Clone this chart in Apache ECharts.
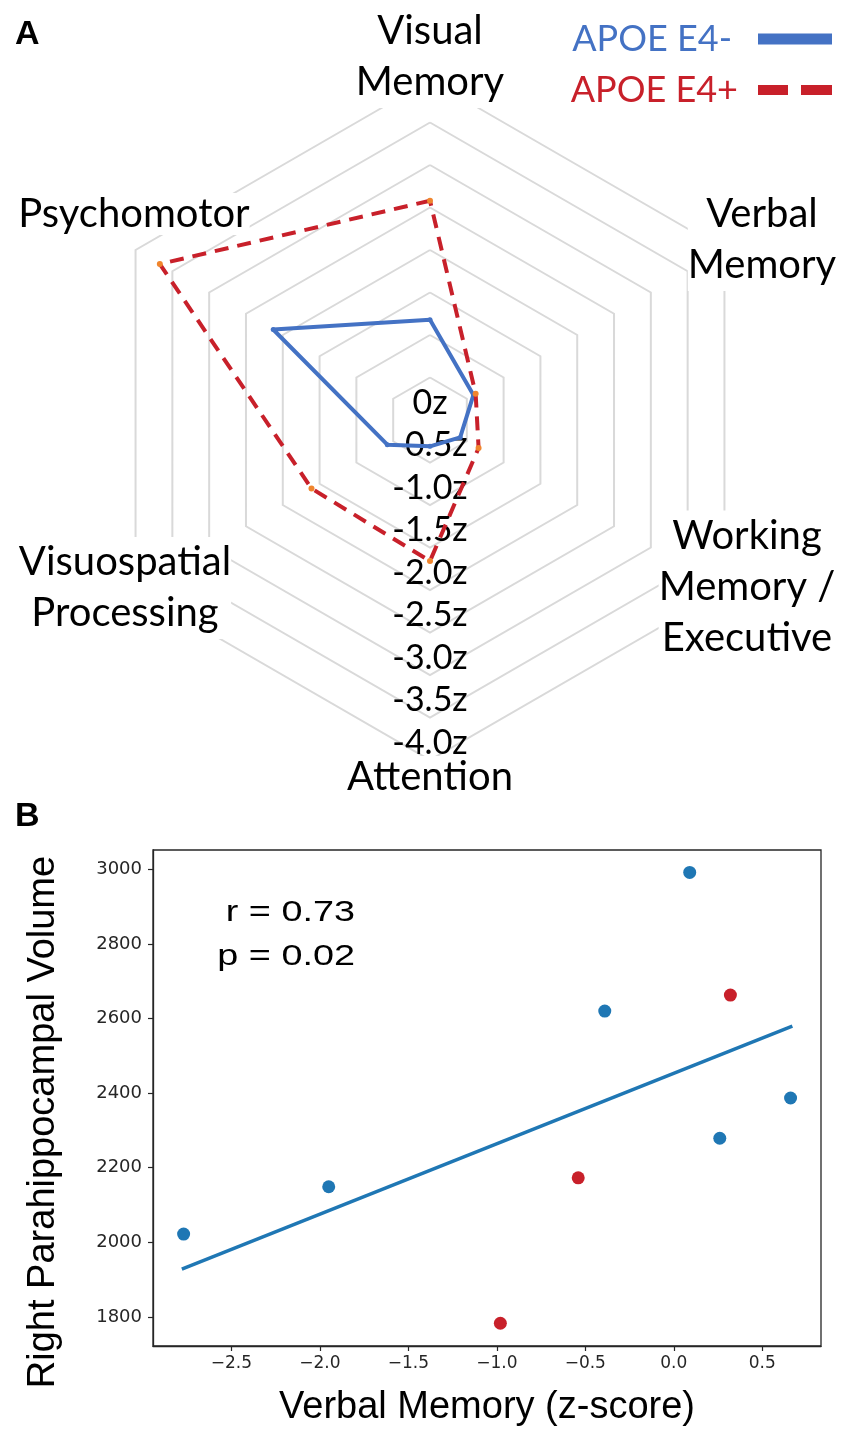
<!DOCTYPE html>
<html>
<head>
<meta charset="utf-8">
<script src="https://cdn.jsdelivr.net/npm/echarts@6/dist/echarts.min.js"></script>
<style>
  html, body { margin: 0; padding: 0; background: #fff; }
  #chart { width: 842px; height: 1429px; }
</style>
</head>
<body>
<div id="chart"></div>
<script>
// Panel A: domain z-scores, listed counterclockwise from the top axis
const domains = ['Visual\nMemory', 'Psychomotor', 'Visuospatial\nProcessing', 'Attention', 'Working\nMemory /\nExecutive', 'Verbal\nMemory']
const e4NegZ = [-1.18, -2.13, -0.58, -0.31, -0.41, -0.59]
const e4PosZ = [-2.58, -3.67, -1.61, -1.66, -0.66, -0.62]

// Panel B: verbal memory vs right parahippocampal volume
const e4NegVerbal = [-2.77, -1.95, -0.39, 0.09, 0.26, 0.66]
const e4NegVolume = [2022, 2149, 2620, 2992, 2279, 2387]
const e4PosVerbal = [-0.98, -0.54, 0.32]
const e4PosVolume = [1783, 2173, 2663]
const fitVerbal = [-2.78, 0.67]
const fitVolume = [1928, 2580]
const xTicks = [-2.5, -2.0, -1.5, -1.0, -0.5, 0.0, 0.5]
const yTicks = [1800, 2000, 2200, 2400, 2600, 2800, 3000]

const BLUE = '#4472C4'
const RED = '#C8202A'
const MPL_BLUE = '#1F77B4'

// label anchors for the radar domain names (pixel layout)
const namePos = [[430, 57], [134, 214], [125, 588], [430, 777], [747, 587], [762, 240]]

const chart = echarts.init(document.getElementById('chart'))

const zFmt = v => (v === 0 ? '0z' : '-' + v.toFixed(1) + 'z')
const mplFmt = v => (v < 0 ? '\u2212' + Math.abs(v).toFixed(1) : v.toFixed(1))

const option = {
  backgroundColor: '#fff',
  animation: false,
  title: [
    { text: 'A', left: 10, top: 13, textStyle: { fontFamily: 'Liberation Sans', fontWeight: 'bold', fontSize: 34, color: '#000' } },
    { text: 'B', left: 10, top: 795, textStyle: { fontFamily: 'Liberation Sans', fontWeight: 'bold', fontSize: 34, color: '#000' } }
  ],
  legend: {
    orient: 'vertical',
    align: 'right',
    right: 5,
    top: 13,
    itemWidth: 74,
    itemHeight: 11,
    itemGap: 9,
    selectedMode: false,
    textStyle: { fontFamily: 'Lato', fontSize: 36, lineHeight: 42 },
    data: [
      { name: 'APOE E4-', icon: 'rect', itemStyle: { color: BLUE, borderWidth: 0 }, textStyle: { color: BLUE, padding: [0, 21, 0, 0] } },
      { name: 'APOE E4+', icon: 'path://M0,0H30V10H0Z M43,0H74V10H43Z', itemStyle: { color: RED, borderWidth: 0 }, textStyle: { color: RED, padding: [0, 15, 0, 0] } }
    ]
  },
  radar: {
    center: [430, 420],
    radius: 340,
    startAngle: 90,
    shape: 'polygon',
    splitNumber: 8,
    indicator: domains.map((d, i) => {
      const ind = { name: d, min: 0, max: 4 }
      if (i === 3) ind.axisLabel = { show: true }
      return ind
    }),
    axisName: { show: false },
    axisLine: { show: false },
    axisTick: { show: false },
    axisLabel: {
      show: false,
      margin: 0,
      align: 'center',
      verticalAlign: 'bottom',
      fontFamily: 'Lato',
      fontSize: 34,
      color: '#000',
      formatter: zFmt
    },
    splitLine: { lineStyle: { color: '#D9D9D9', width: 2 } },
    splitArea: { show: false }
  },
  grid: {
    left: 153, right: 21, top: 850, bottom: 83,
    show: true, borderColor: '#262626', borderWidth: 1.3
  },
  xAxis: {
    type: 'value',
    min: -2.943, max: 0.832,
    splitLine: { show: false },
    axisLine: { onZero: false, lineStyle: { color: '#262626', width: 1.3 } },
    axisTick: { length: 5, lineStyle: { color: '#262626', width: 1.2 }, customValues: xTicks },
    axisLabel: { customValues: xTicks, fontFamily: 'DejaVu Sans', fontSize: 17, color: '#262626', margin: 9, formatter: mplFmt },
    name: 'Verbal Memory (z-score)',
    nameLocation: 'middle',
    nameGap: 43,
    nameTextStyle: { fontFamily: 'Liberation Sans', fontSize: 38, color: '#000' }
  },
  yAxis: {
    type: 'value',
    min: 1722, max: 3052,
    splitLine: { show: false },
    axisLine: { show: true, onZero: false, lineStyle: { color: '#262626', width: 1.3 } },
    axisTick: { show: true, length: 5, lineStyle: { color: '#262626', width: 1.2 }, customValues: yTicks },
    axisLabel: { customValues: yTicks, fontFamily: 'DejaVu Sans', fontSize: 18, color: '#262626', margin: 11, formatter: v => String(v) },
    name: 'Right Parahippocampal Volume',
    nameLocation: 'middle',
    nameGap: 90,
    nameTextStyle: { fontFamily: 'Liberation Sans', fontSize: 38, color: '#000', padding: [0, 48, 0, 0] }
  },
  graphic: [
    ...domains.map((d, i) => ({
      type: 'text',
      x: namePos[i][0],
      y: namePos[i][1],
      z: 10,
      style: {
        text: d,
        fontFamily: 'Lato',
        fontSize: 40,
        lineHeight: d.indexOf('\n') >= 0 ? 51 : 42,
        align: 'center',
        verticalAlign: 'middle',
        fill: '#000',
        backgroundColor: '#fff'
      }
    })),
    {
      type: 'text', x: 355, y: 913, scaleX: 1.26, z: 10,
      style: { text: 'r = 0.73', fontFamily: 'Liberation Sans', fontSize: 30, align: 'right', verticalAlign: 'middle', fill: '#000' }
    },
    {
      type: 'text', x: 355, y: 957, scaleX: 1.26, z: 10,
      style: { text: 'p = 0.02', fontFamily: 'Liberation Sans', fontSize: 30, align: 'right', verticalAlign: 'middle', fill: '#000' }
    }
  ],
  series: [
    {
      type: 'radar',
      name: 'APOE E4-',
      z: 2,
      symbol: 'circle',
      symbolSize: 5,
      itemStyle: { color: BLUE },
      lineStyle: { color: BLUE, width: 4 },
      data: [{ name: 'APOE E4-', value: e4NegZ.map(z => -z) }]
    },
    {
      type: 'radar',
      name: 'APOE E4+',
      z: 3,
      symbol: 'circle',
      symbolSize: 6,
      itemStyle: { color: '#F0852D' },
      lineStyle: { color: RED, width: 4, type: [14, 9] },
      data: [{ name: 'APOE E4+', value: e4PosZ.map(z => -z) }]
    },
    {
      type: 'line',
      name: 'fit',
      data: fitVerbal.map((x, i) => [x, fitVolume[i]]),
      showSymbol: false,
      symbol: 'none',
      lineStyle: { color: MPL_BLUE, width: 3.5 },
      z: 2
    },
    {
      type: 'scatter',
      name: 'E4- subjects',
      data: e4NegVerbal.map((x, i) => [x, e4NegVolume[i]]),
      symbolSize: 13,
      itemStyle: { color: MPL_BLUE, opacity: 1 },
      z: 3
    },
    {
      type: 'scatter',
      name: 'E4+ subjects',
      data: e4PosVerbal.map((x, i) => [x, e4PosVolume[i]]),
      symbolSize: 13,
      itemStyle: { color: RED, opacity: 1 },
      z: 3
    }
  ]
}

chart.setOption(option)
</script>
</body>
</html>
